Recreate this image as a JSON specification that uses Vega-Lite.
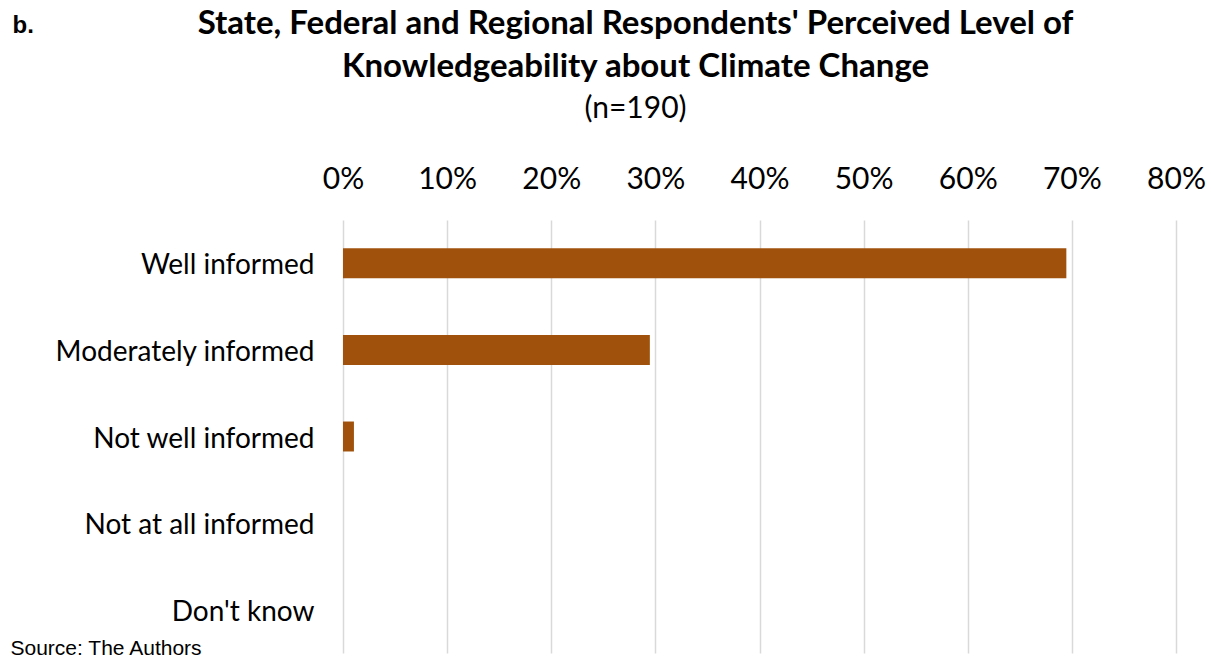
{
  "$schema": "https://vega.github.io/schema/vega-lite/v6.json",
  "width": 833,
  "height": 433,
  "autosize": {"type": "none"},
  "padding": {"left": 343, "top": 220, "right": 35, "bottom": 4},
  "background": "white",
  "data": {
    "values": [
      {"level": "Well informed", "share": 0.6947},
      {"level": "Moderately informed", "share": 0.2947},
      {"level": "Not well informed", "share": 0.0105},
      {"level": "Not at all informed", "share": 0},
      {"level": "Don't know", "share": 0}
    ]
  },
  "title": {
    "text": ["State, Federal and Regional Respondents' Perceived Level of", "Knowledgeability about Climate Change"],
    "subtitle": "(n=190)",
    "anchor": "middle",
    "frame": "group",
    "dx": -124,
    "font": "Lato",
    "fontSize": 33,
    "fontWeight": "bold",
    "lineHeight": 43,
    "color": "#000000",
    "subtitleFont": "Lato",
    "subtitleFontSize": 30,
    "subtitleColor": "#000000",
    "subtitlePadding": 10,
    "offset": -111
  },
  "mark": {"type": "bar", "color": "#A0520C"},
  "encoding": {
    "y": {
      "field": "level",
      "type": "nominal",
      "sort": null,
      "scale": {"paddingInner": 0.654, "paddingOuter": 0.327},
      "axis": {
        "title": "Source: The Authors",
        "titleX": -333,
        "titleY": 428,
        "titleAngle": 0,
        "titleAlign": "left",
        "titleBaseline": "middle",
        "titleAnchor": null,
        "titleFont": "Liberation Sans",
        "titleFontSize": 21,
        "titleFontWeight": "normal",
        "titleColor": "#000000",
        "labelFont": "Lato",
        "labelFontSize": 28,
        "labelColor": "#000000",
        "labelPadding": 29,
        "labelOffset": 3,
        "labelLimit": 400,
        "ticks": false,
        "domain": false,
        "grid": false
      }
    },
    "x": {
      "field": "share",
      "type": "quantitative",
      "scale": {"domain": [0, 0.8], "nice": false},
      "axis": {
        "orient": "top",
        "format": ".0%",
        "values": [0, 0.1, 0.2, 0.3, 0.4, 0.5, 0.6, 0.7, 0.8],
        "title": "b.",
        "titleX": -331,
        "titleY": -195,
        "titleAlign": "left",
        "titleBaseline": "middle",
        "titleAnchor": null,
        "titleFont": "Liberation Sans",
        "titleFontSize": 24,
        "titleFontWeight": "bold",
        "titleColor": "#000000",
        "labelFont": "Lato",
        "labelFontSize": 30,
        "labelColor": "#000000",
        "labelBaseline": "alphabetic",
        "labelFlush": false,
        "labelPadding": 32,
        "ticks": false,
        "domain": false,
        "grid": true,
        "gridColor": "#D9D9D9",
        "gridWidth": 1.5
      }
    }
  },
  "config": {"view": {"stroke": null}}
}
